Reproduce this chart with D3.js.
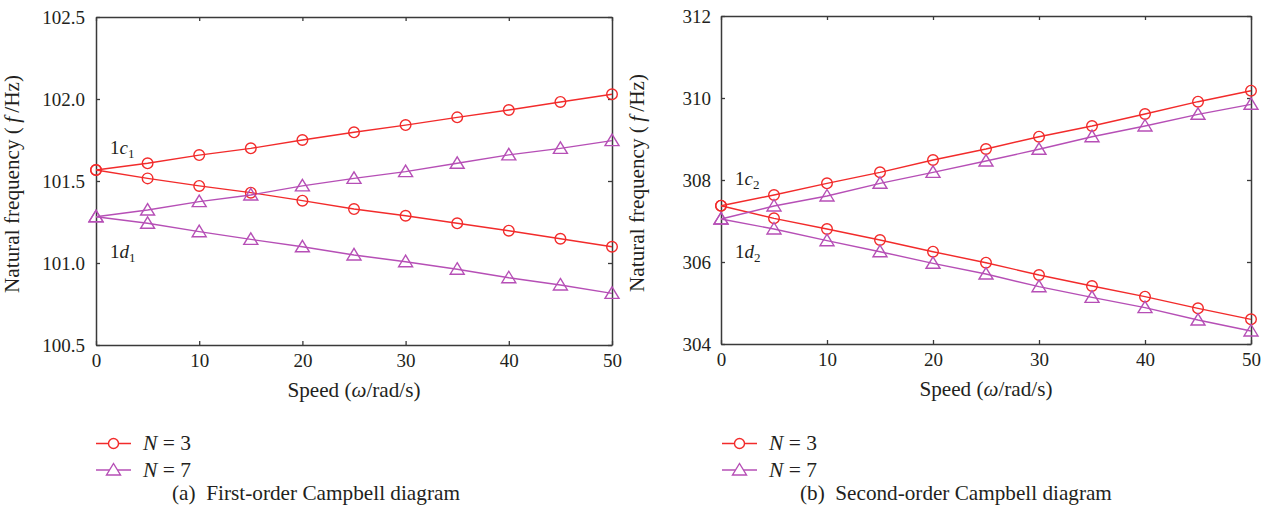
<!DOCTYPE html>
<html>
<head>
<meta charset="utf-8">
<script src="https://cdn.jsdelivr.net/npm/d3@7"></script>
<style>
  html, body { margin: 0; padding: 0; background: #fff; }
  svg { display: block; }
</style>
</head>
<body>
<svg id="chart" width="1267" height="517"></svg>
<script>
// ---------- data ----------
const speed = [0, 5, 10, 15, 20, 25, 30, 35, 40, 45, 50];
const xTicks = [0, 10, 20, 30, 40, 50];

// (a) first order
const aTicks = [100.5, 101.0, 101.5, 102.0, 102.5];
const aN3Up   = [101.567, 101.608, 101.658, 101.699, 101.750, 101.797, 101.841, 101.888, 101.933, 101.982, 102.029];
const aN3Down = [101.567, 101.516, 101.470, 101.429, 101.380, 101.329, 101.288, 101.242, 101.197, 101.148, 101.099];
const aN7Up   = [101.282, 101.323, 101.374, 101.415, 101.470, 101.516, 101.557, 101.608, 101.659, 101.699, 101.746];
const aN7Down = [101.282, 101.242, 101.191, 101.144, 101.099, 101.049, 101.008, 100.962, 100.910, 100.866, 100.815];

// (b) second order
const bTicks = [304, 306, 308, 310, 312];
const bN3Up   = [307.373, 307.634, 307.919, 308.187, 308.488, 308.756, 309.056, 309.317, 309.610, 309.910, 310.178];
const bN3Down = [307.373, 307.065, 306.805, 306.537, 306.251, 305.983, 305.683, 305.415, 305.154, 304.870, 304.602];
const bN7Up   = [307.049, 307.366, 307.610, 307.919, 308.187, 308.463, 308.749, 309.056, 309.317, 309.602, 309.846];
const bN7Down = [307.049, 306.805, 306.520, 306.251, 305.968, 305.707, 305.398, 305.138, 304.886, 304.585, 304.317];

const seriesNames = ["N = 3", "N = 7"];
const captions = ["(a)\u2002First-order Campbell diagram", "(b)\u2002Second-order Campbell diagram"];

// ---------- styles ----------
const FONT = "'Liberation Serif', 'Times New Roman', serif";
const INK = "#231f20";
const RED = "#f22b2b";
const MAG = "#b64fb6";
const AXIS = "#3a3a3a";

const svg = d3.select("#chart").style("font-family", FONT);
svg.append("rect").attr("width", 1267).attr("height", 517).attr("fill", "#fff");

const triPath = "M0,-6.5L7,5L-7,5Z";

// scale font size so text spans the target width
function fit(t, width) {
  const fs = parseFloat(t.style("font-size"));
  const w = t.node().getComputedTextLength();
  if (w > 0) t.style("font-size", (fs * width / w) + "px");
  return t;
}

function txt(parent) {
  return parent.append("text").style("font-family", FONT).style("fill", INK);
}

function drawPanel(cfg) {
  const x = d3.scaleLinear().domain([0, 50]).range([cfg.x0, cfg.x1]);
  const y = d3.scaleLinear().domain(cfg.yDomain).range([cfg.y1, cfg.y0]);
  const g = svg.append("g");

  const ax = [
    g.append("g").attr("transform", `translate(0,${cfg.y1})`)
      .call(d3.axisBottom(x).tickValues(xTicks).tickSize(-4).tickSizeOuter(0).tickPadding(9).tickFormat(d3.format("d"))),
    g.append("g").attr("transform", `translate(0,${cfg.y0})`)
      .call(d3.axisTop(x).tickValues(xTicks).tickSize(-4).tickSizeOuter(0).tickFormat("")),
    g.append("g").attr("transform", `translate(${cfg.x0},0)`)
      .call(d3.axisLeft(y).tickValues(cfg.yTicks).tickSize(-4).tickSizeOuter(0).tickPadding(cfg.yPad).tickFormat(d3.format(cfg.yFmt))),
    g.append("g").attr("transform", `translate(${cfg.x1},0)`)
      .call(d3.axisRight(y).tickValues(cfg.yTicks).tickSize(-4).tickSizeOuter(0).tickFormat(""))
  ];
  ax.forEach(a => {
    a.attr("font-family", null).attr("font-size", null);
    a.select(".domain").attr("stroke", AXIS).attr("stroke-width", 1.5);
    a.selectAll(".tick line").attr("stroke", AXIS).attr("stroke-width", 1.3);
    a.selectAll(".tick text").style("font-size", "19px").style("fill", INK)
      .style("font-family", FONT);
  });

  // axis titles
  const yl = txt(g)
    .attr("transform", `translate(${cfg.x0 - 77},${cfg.yTitleC}) rotate(-90)`)
    .attr("text-anchor", "middle").style("font-size", "18px");
  yl.append("tspan").text("Natural frequency (\u2009");
  yl.append("tspan").style("font-style", "italic").text("f");
  yl.append("tspan").text("\u2009/Hz)");
  fit(yl, 218);

  const xl = txt(g)
    .attr("x", (cfg.x0 + cfg.x1) / 2).attr("y", cfg.y1 + 52)
    .attr("text-anchor", "middle").style("font-size", "18px");
  xl.append("tspan").text("Speed (");
  xl.append("tspan").style("font-style", "italic").text("ω");
  xl.append("tspan").text("/rad/s)");
  fit(xl, 133);

  const line = d3.line().x((d, i) => x(speed[i])).y(d => y(d));

  const series = [
    { data: cfg.n3[0], color: RED, marker: "circle" },
    { data: cfg.n3[1], color: RED, marker: "circle" },
    { data: cfg.n7[0], color: MAG, marker: "tri" },
    { data: cfg.n7[1], color: MAG, marker: "tri" }
  ];
  series.forEach(s => {
    g.append("path").datum(s.data).attr("d", line)
      .attr("fill", "none").attr("stroke", s.color).attr("stroke-width", 1.4);
  });
  series.forEach(s => {
    const sel = g.append("g").selectAll("g").data(s.data).join("g")
      .attr("transform", (d, i) => `translate(${x(speed[i])},${y(d)})`);
    if (s.marker === "circle") {
      sel.append("circle").attr("r", 5.3).attr("fill", "none")
        .attr("stroke", s.color).attr("stroke-width", 1.4);
    } else {
      sel.append("path").attr("d", triPath).attr("fill", "none")
        .attr("stroke", s.color).attr("stroke-width", 1.4);
    }
  });

  // mode labels
  function modeLabel(tx, ty, letter, sub) {
    const t = txt(g).attr("x", tx).attr("y", ty).style("font-size", "19px");
    t.append("tspan").text("1");
    t.append("tspan").style("font-style", "italic").text(letter);
    t.append("tspan").style("font-size", "13px").attr("dy", 4).text(sub);
  }
  modeLabel(cfg.x0 + 14, cfg.cLabelY, "c", cfg.order);
  modeLabel(cfg.x0 + 14, cfg.dLabelY, "d", cfg.order);

  // legend
  const lg = g.append("g");
  [[RED, "circle", 443.5, seriesNames[0]], [MAG, "tri", 470, seriesNames[1]]].forEach(([c, m, ly, name]) => {
    const lx0 = cfg.legX, lx1 = cfg.legX + 35, mx = cfg.legX + 17.5;
    lg.append("line").attr("x1", lx0).attr("x2", lx1).attr("y1", ly).attr("y2", ly)
      .attr("stroke", c).attr("stroke-width", 1.4);
    if (m === "circle") {
      lg.append("circle").attr("cx", mx).attr("cy", ly).attr("r", 5).attr("fill", "#fff")
        .attr("stroke", c).attr("stroke-width", 1.4);
    } else {
      lg.append("path").attr("transform", `translate(${mx},${ly})`).attr("d", triPath)
        .attr("fill", "#fff").attr("stroke", c).attr("stroke-width", 1.4);
    }
    const parts = name.split(" ");
    const t = txt(lg).attr("x", cfg.legX + 47).attr("y", ly + 6.5).style("font-size", "19px");
    t.append("tspan").style("font-style", "italic").text(parts[0]);
    t.append("tspan").text(" " + parts.slice(1).join(" "));
    fit(t, 48);
  });

  // caption
  const cap = txt(g).attr("x", cfg.capX).attr("y", 500).style("font-size", "17px")
    .text(cfg.caption);
  fit(cap, cfg.capW);
}

drawPanel({
  x0: 96, x1: 612, y0: 17, y1: 345,
  yDomain: [100.5, 102.5], yTicks: aTicks, yFmt: ".1f", yPad: 11, yTitleC: 184,
  n3: [aN3Up, aN3Down], n7: [aN7Up, aN7Down],
  order: "1", cLabelY: 154, dLabelY: 258,
  legX: 96, capX: 172, capW: 288, caption: captions[0]
});

drawPanel({
  x0: 721, x1: 1251, y0: 16, y1: 344,
  yDomain: [304, 312], yTicks: bTicks, yFmt: "d", yPad: 10, yTitleC: 183,
  n3: [bN3Up, bN3Down], n7: [bN7Up, bN7Down],
  order: "2", cLabelY: 185, dLabelY: 258,
  legX: 722, capX: 800, capW: 312, caption: captions[1]
});
</script>
</body>
</html>
